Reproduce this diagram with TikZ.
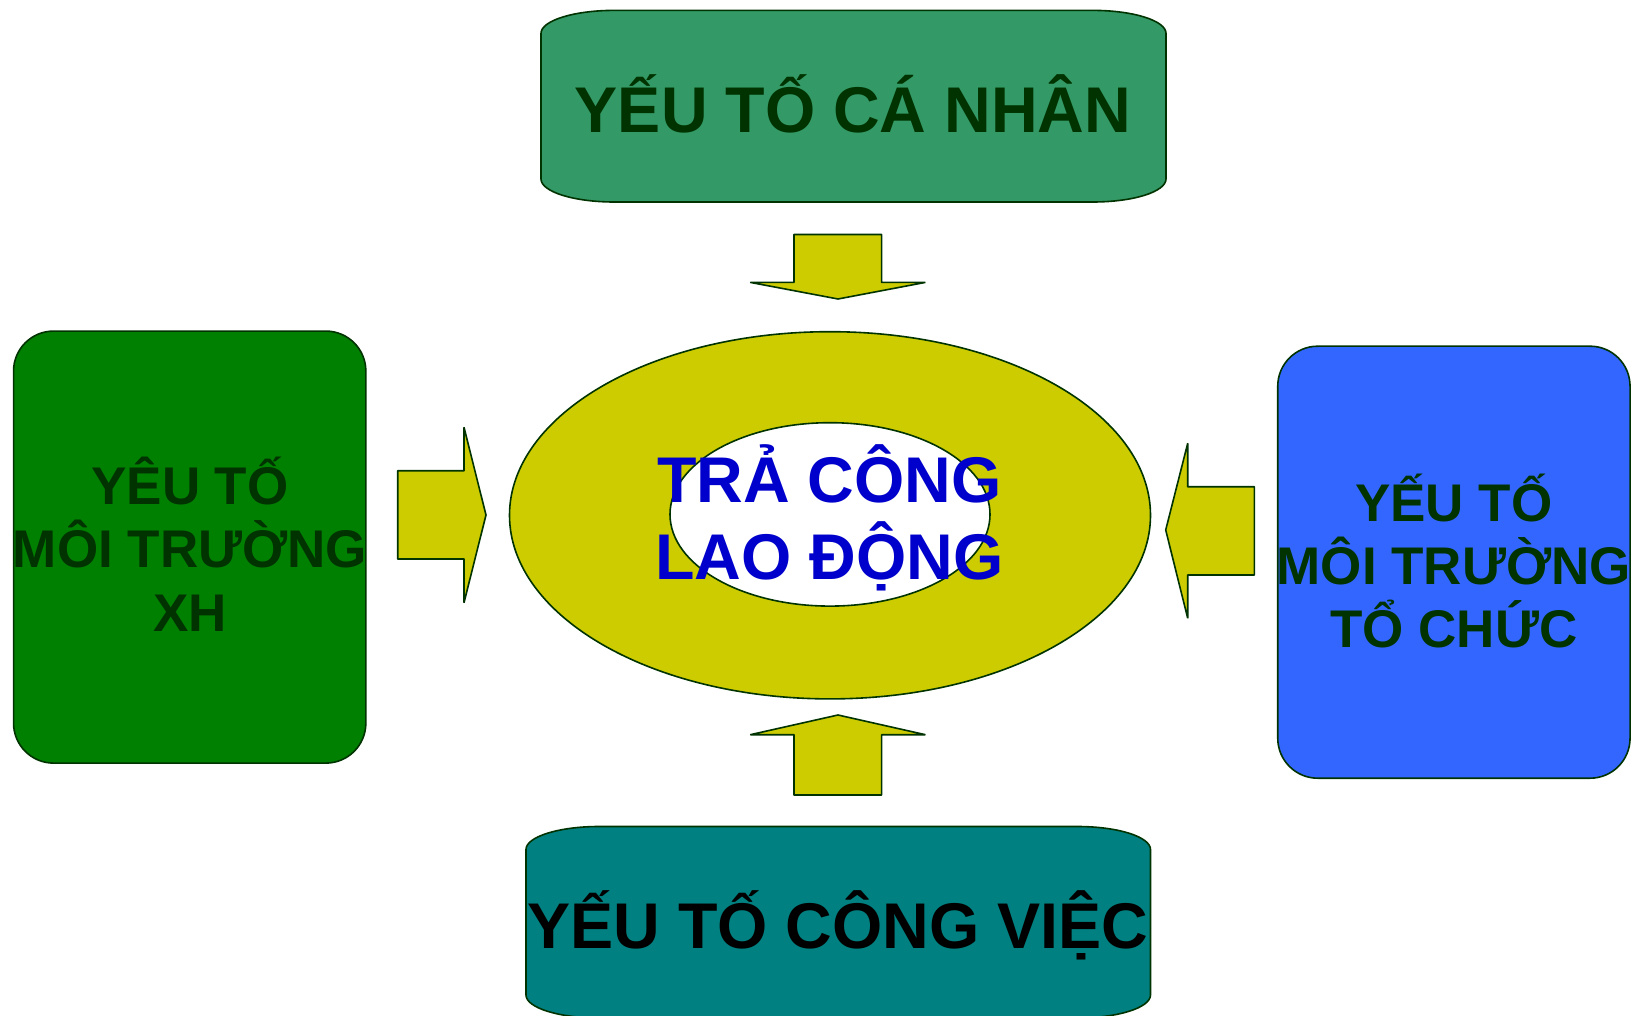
\documentclass[tikz,border=0pt]{standalone}
\usepackage{fontspec}
\setmainfont{Liberation Sans}
\usetikzlibrary{shapes.geometric}
\definecolor{edge}{HTML}{003300}
\definecolor{sea}{HTML}{339966}
\definecolor{grass}{HTML}{008000}
\definecolor{azure}{HTML}{3366FF}
\definecolor{tealbox}{HTML}{008080}
\definecolor{olivefill}{HTML}{CCCC00}
\definecolor{navy}{HTML}{0000CC}
\begin{document}
\begin{tikzpicture}[x=0.5pt,y=-0.5pt,
  outline/.style={draw=edge, line width=0.8pt},
  blockarrow/.style={outline, fill=olivefill, line join=bevel},
  bigtext/.style={font=\fontsize{32.3}{38.5}\selectfont\bfseries, inner sep=0pt, anchor=base},
  sidetext/.style={font=\fontsize{26.5}{31.75}\selectfont\bfseries, inner sep=0pt, anchor=base, text=edge},
  sidebox/.style={outline, rectangle, rounded corners=20pt, minimum width=176.15pt, minimum height=216pt, inner sep=0pt},
  ring/.style={outline, ellipse, inner sep=0pt}]
\useasboundingbox (0,0) rectangle (1634,1016);
\fill[white] (0,0) rectangle (1634,1016);

% top box with flat elliptical corners
\path[outline, fill=sea] (541,33.4)
  arc[start angle=180,end angle=270,x radius=73,y radius=23] -- (1093,10.4)
  arc[start angle=270,end angle=360,x radius=73,y radius=23] -- (1166,179)
  arc[start angle=0,end angle=90,x radius=73,y radius=23] -- (614,202)
  arc[start angle=90,end angle=180,x radius=73,y radius=23] -- cycle;

% bottom box, running off the lower edge
\path[outline, fill=tealbox] (526,849.5)
  arc[start angle=180,end angle=270,x radius=73,y radius=23] -- (1077.5,826.5)
  arc[start angle=270,end angle=360,x radius=73,y radius=23] -- (1150.5,995)
  arc[start angle=0,end angle=90,x radius=73,y radius=23] -- (599,1018)
  arc[start angle=90,end angle=180,x radius=73,y radius=23] -- cycle;

% side boxes
\node[sidebox, fill=grass] (social) at (189.7,547.1) {};
\node[sidebox, fill=azure] (org) at (1453.9,562.2) {};

% central rings
\node[ring, fill=olivefill, minimum width=320.5pt, minimum height=183.6pt] (outer) at (830,515.3) {};
\node[ring, fill=white, minimum width=160pt, minimum height=91.7pt] (inner) at (830,514.4) {};

% block arrows pointing at the centre
\draw[blockarrow] (794,234.5) -- (881.6,234.5) -- (881.6,282.4) -- (925.4,282.4)
  -- (838,299) -- (750.3,282.4) -- (794,282.4) -- cycle;
\draw[blockarrow] (794,795) -- (881.6,795) -- (881.6,734.7) -- (925.4,734.7)
  -- (838,715) -- (750.3,734.7) -- (794,734.7) -- cycle;
\draw[blockarrow] (397.7,470.7) -- (464,470.7) -- (464,427.3) -- (486,515)
  -- (464,602.7) -- (464,559) -- (397.7,559) -- cycle;
\draw[blockarrow] (1254.3,486.7) -- (1187.7,486.7) -- (1187.7,443.3) -- (1165.7,530)
  -- (1187.7,618.3) -- (1187.7,575) -- (1254.3,575) -- cycle;

% labels
\node[bigtext, text=edge] (personal) at (853,132.7) {YẾU TỐ CÁ NHÂN};
\node[bigtext, text=black] (job) at (838,948.3) {YẾU TỐ CÔNG VIỆC};
\node[bigtext, text=navy] (pay1) at (829.5,502.7) {TRẢ CÔNG};
\node[bigtext, text=navy] (pay2) at (829.5,579.3) {LAO ĐỘNG};

\node[sidetext] (social1) at (190,504.3) {YÊU TỐ};
\node[sidetext] (social2) at (190,567.7) {MÔI TRƯỜNG};
\node[sidetext] (social3) at (190,631.7) {XH};

\node[sidetext] (org1) at (1453.8,521) {YẾU TỐ};
\node[sidetext] (org2) at (1453.8,584.3) {MÔI TRƯỜNG};
\node[sidetext] (org3) at (1453.8,647.7) {TỔ CHỨC};
\end{tikzpicture}
\end{document}
